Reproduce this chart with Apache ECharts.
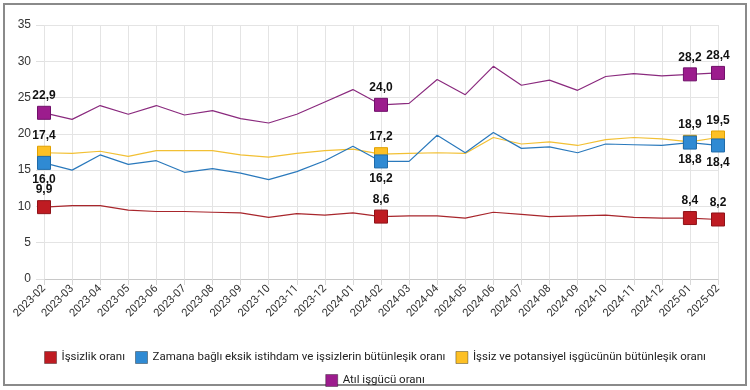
<!DOCTYPE html>
<html>
<head>
<meta charset="utf-8">
<script src="https://cdn.jsdelivr.net/npm/echarts@6/dist/echarts.min.js"></script>
<style>
html,body{margin:0;padding:0;background:#fff;}
#chart{width:750px;height:390px;}
</style>
</head>
<body>
<div id="chart"></div>
<script>
const categories = ['2023-02','2023-03','2023-04','2023-05','2023-06','2023-07','2023-08','2023-09','2023-10','2023-11','2023-12','2024-01','2024-02','2024-03','2024-04','2024-05','2024-06','2024-07','2024-08','2024-09','2024-10','2024-11','2024-12','2025-01','2025-02'];
const issizlik = [9.9,10.1,10.1,9.5,9.3,9.3,9.2,9.1,8.5,9.0,8.8,9.1,8.6,8.7,8.7,8.4,9.2,8.9,8.6,8.7,8.8,8.5,8.4,8.4,8.2];
const zamana = [16.0,15.0,17.1,15.8,16.3,14.7,15.2,14.6,13.7,14.8,16.3,18.3,16.2,16.2,19.8,17.4,20.2,18.0,18.2,17.4,18.6,18.5,18.4,18.8,18.4];
const potansiyel = [17.4,17.3,17.6,16.9,17.7,17.7,17.7,17.1,16.8,17.3,17.7,17.9,17.2,17.3,17.4,17.3,19.5,18.6,18.9,18.4,19.2,19.5,19.3,18.9,19.5];
const atil = [22.9,22.0,23.9,22.7,23.9,22.6,23.2,22.1,21.5,22.7,24.4,26.1,24.0,24.2,27.5,25.4,29.3,26.7,27.4,26.0,27.9,28.3,28.0,28.2,28.4];
const markedIndices = [0,12,23,24];
const yTicks = [0,5,10,15,20,25,30,35];

const names = ['İşsizlik oranı','Zamana bağlı eksik istihdam ve işsizlerin bütünleşik oranı','İşsiz ve potansiyel işgücünün bütünleşik oranı','Atıl işgücü oranı'];

function buildData(values, pos) {
  return values.map((v, i) => {
    if (markedIndices.indexOf(i) >= 0) {
      return {value: v, symbol: 'rect', symbolSize: 13,
        label: {show: true, position: pos}};
    }
    return {value: v, symbol: 'none'};
  });
}

function mkSeries(name, values, fill, border, line, pos, z) {
  return {
    name: name, type: 'line', data: buildData(values, pos),
    symbol: 'none', showSymbol: true, z: z,
    color: fill,
    itemStyle: {color: fill, borderColor: border, borderWidth: 1},
    lineStyle: {color: line, width: 1.2},
    emphasis: {disabled: true},
    label: {show: false, color: '#111', fontSize: 12, fontWeight: 'bold',
      fontFamily: 'Liberation Sans, Arial, sans-serif', distance: 4,
      formatter: p => p.value.toFixed(1).replace('.', ',')},
    animation: false
  };
}

const legendText = {fontFamily: 'Roboto, sans-serif', fontSize: 11.5, color: '#222'};
const chart = echarts.init(document.getElementById('chart'), null, {renderer: 'canvas'});
chart.setOption({
  animation: false,
  backgroundColor: '#fff',
  graphic: [{type: 'rect', shape: {x: 4, y: 4, width: 742, height: 381},
    style: {fill: 'none', stroke: '#8a8a8a', lineWidth: 2}, z: -1}],
  grid: {left: 44, right: 32, top: 25, bottom: 111},
  legend: [{
    data: names.slice(0, 3), top: 346, left: 'center', width: 720,
    icon: 'rect', itemWidth: 12, itemHeight: 12, itemGap: 10,
    itemStyle: {borderWidth: 1, borderColor: 'rgba(0,0,0,0.35)'},
    textStyle: legendText
  }, {
    data: names.slice(3), top: 369, left: 'center',
    icon: 'rect', itemWidth: 12, itemHeight: 12,
    itemStyle: {borderWidth: 1, borderColor: 'rgba(0,0,0,0.35)'},
    textStyle: legendText
  }],
  xAxis: {
    type: 'category', data: categories, boundaryGap: false,
    axisLine: {lineStyle: {color: '#c8c8c8'}},
    axisTick: {show: true, length: 6, alignWithLabel: true, lineStyle: {color: '#d8d8d8'}},
    splitLine: {show: true, lineStyle: {color: '#e4e4e4'}},
    axisLabel: {interval: 0, rotate: 45, fontSize: 11, color: '#333', margin: 8,
      fontFamily: 'Roboto, sans-serif'}
  },
  yAxis: {
    type: 'value', min: yTicks[0], max: yTicks[yTicks.length - 1], interval: 5,
    axisLine: {show: false},
    axisTick: {show: true, length: 8, lineStyle: {color: '#e0e0e0'}},
    splitLine: {lineStyle: {color: '#e4e4e4'}},
    axisLabel: {fontSize: 12, color: '#333', margin: 13,
      fontFamily: 'Liberation Sans, Arial, sans-serif'}
  },
  series: [
    mkSeries(names[0], issizlik, '#BF1B22', '#8E1218', '#A8262C', 'top', 2),
    mkSeries(names[1], zamana, '#2F8AD3', '#1F6AA8', '#2A79BC', 'bottom', 4),
    mkSeries(names[2], potansiyel, '#FDC025', '#E0A000', '#F2C034', 'top', 3),
    mkSeries(names[3], atil, '#9C1C8D', '#70106A', '#8A2A7E', 'top', 2)
  ]
});
</script>
</body>
</html>
